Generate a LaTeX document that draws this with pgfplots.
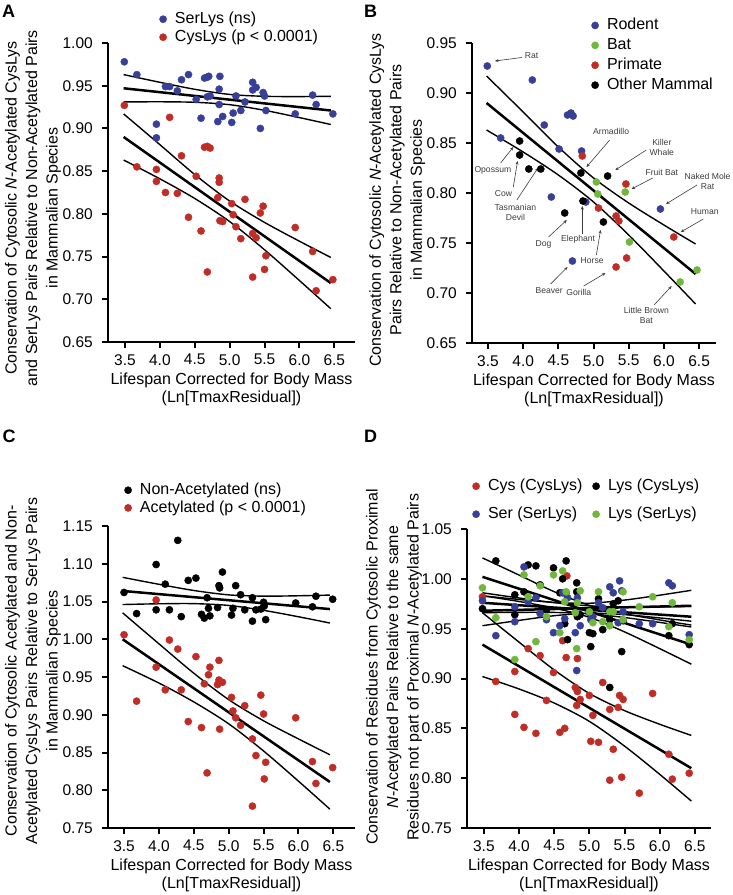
\documentclass[border=0pt]{standalone}
\usepackage{pgfplots}
\pgfplotsset{compat=1.18}
\usepackage{fontspec}
\setmainfont{Liberation Sans}
\usetikzlibrary{arrows.meta}

\definecolor{pblue}{RGB}{56,63,153}
\definecolor{pred}{RGB}{192,45,38}
\definecolor{pgreen}{RGB}{112,183,58}
\definecolor{annot}{RGB}{60,60,60}

\newcommand{\tickfont}{\fontsize{15.5}{18}\selectfont}

\pgfplotsset{
  panel/.style={
    scale only axis, clip=false,
    axis lines=left, axis line style={line width=2.6pt,-},
    tick align=outside, major tick length=6pt,
    tick style={line width=2pt,black},
    xtick={3.5,4.0,4.5,5.0,5.5,6.0,6.5},
    /pgf/number format/assume math mode=true,
    every tick label/.append style={font=\tickfont},
    xticklabel={\pgfmathprintnumber[fixed,fixed zerofill,precision=1]{\tick}},
    yticklabel={\pgfmathprintnumber[fixed,fixed zerofill,precision=2]{\tick}},
    xticklabel style={inner sep=0pt, yshift=-6pt},
    yticklabel style={inner sep=0pt, xshift=-9pt},
    xlabel={Lifespan Corrected for Body Mass\\(Ln[TmaxResidual])},
    xlabel style={at={(axis description cs:0.5,0)}, anchor=north, yshift=-31pt,
      font=\fontsize{16}{18}\selectfont, align=center, inner sep=0pt},
    ylabel style={font=\fontsize{16}{20.5}\selectfont, align=center, inner sep=0pt, anchor=south},
    legend cell align=left,
    legend image code/.code={\draw[##1,mark size=3.6pt] plot coordinates {(0pt,0pt)};},
    legend style={draw=none, fill=none, inner sep=0pt, anchor=north west,
      at={(axis description cs:0,1)}, font=\fontsize{16}{19}\selectfont,
      nodes={inner sep=0pt, text height=12pt, text depth=3.5pt},
      /tikz/every odd column/.append style={column sep=8.3pt}},
  },
  pts/.style={only marks, mark=*, mark size=3.6pt, color=#1},
  fit/.style={black, line width=2.5pt, forget plot},
  ci/.style={black, line width=1.4pt, smooth, forget plot},
}

\begin{document}
\begin{tikzpicture}
\path[use as bounding box] (0pt,0pt) rectangle (733pt,-895pt);

% ---------------- A
\begin{axis}[panel, at={(108pt,-342pt)}, anchor=south west, width=247pt, height=299pt,
  xmin=3.256, xmax=6.797, ymin=0.65, ymax=1.00, ytick={0.65,0.70,...,1.00},
  ylabel={Conservation of Cytosolic \textit{N}-Acetylated CysLys\\and SerLys Pairs Relative to Non-Acetylated Pairs\\in Mammalian Species},
  ylabel style={at={(axis description cs:-0.190,0.448)}},
  legend style={xshift=51.3pt, yshift=31.75pt, row sep=2.5pt}]
\addplot[pts=pblue] coordinates {(3.49,0.978)(3.67,0.963)(3.95,0.889)(3.95,0.905)(4.08,0.949)(4.14,0.949)(4.25,0.944)(4.31,0.957)(4.41,0.963)(4.52,0.934)(4.59,0.912)(4.64,0.959)(4.68,0.960)(4.70,0.961)(4.68,0.937)(4.72,0.938)(4.83,0.908)(4.85,0.928)(4.85,0.946)(4.86,0.961)(4.90,0.914)(5.03,0.907)(5.05,0.918)(5.09,0.938)(5.16,0.921)(5.22,0.931)(5.33,0.954)(5.33,0.945)(5.38,0.948)(5.44,0.900)(5.48,0.942)(5.50,0.938)(5.52,0.921)(5.94,0.917)(6.19,0.939)(6.24,0.928)(6.48,0.917)};
\addlegendentry{SerLys (ns)}
\addplot[pts=pred] coordinates {(3.49,0.927)(3.67,0.855)(3.95,0.852)(3.95,0.838)(4.08,0.825)(4.14,0.913)(4.25,0.824)(4.31,0.868)(4.41,0.796)(4.52,0.844)(4.59,0.780)(4.64,0.878)(4.68,0.879)(4.72,0.877)(4.68,0.732)(4.83,0.819)(4.85,0.842)(4.85,0.837)(4.86,0.792)(4.90,0.791)(5.03,0.812)(5.05,0.799)(5.09,0.785)(5.16,0.771)(5.22,0.817)(5.33,0.777)(5.33,0.726)(5.38,0.772)(5.44,0.801)(5.48,0.809)(5.52,0.751)(5.50,0.735)(5.94,0.784)(6.19,0.756)(6.24,0.710)(6.48,0.723)};
\addlegendentry{CysLys (p < 0.0001)}
\addplot[fit] coordinates {(3.48,0.947)(6.45,0.921)};
\addplot[ci] coordinates {(3.48,0.963)(4.0,0.954)(4.5,0.9458)(5.0,0.9398)(5.5,0.9376)(6.0,0.9373)(6.45,0.9376)};
\addplot[ci] coordinates {(3.48,0.931)(4.0,0.9312)(4.5,0.9306)(5.0,0.9278)(5.5,0.9212)(6.0,0.9127)(6.45,0.9046)};
\addplot[fit] coordinates {(3.48,0.890)(6.45,0.719)};
\addplot[ci] coordinates {(3.48,0.917)(4.0,0.881)(4.5,0.846)(5.0,0.815)(5.5,0.790)(6.0,0.768)(6.45,0.749)};
\addplot[ci] coordinates {(3.48,0.863)(4.0,0.841)(4.5,0.818)(5.0,0.791)(5.5,0.758)(6.0,0.722)(6.45,0.689)};
\end{axis}

% ---------------- B
\begin{axis}[panel, at={(472pt,-343pt)}, anchor=south west, width=244pt, height=300pt,
  xmin=3.273, xmax=6.74, ymin=0.65, ymax=0.95, ytick={0.65,0.70,...,0.95},
  ylabel={Conservation of Cytosolic \textit{N}-Acetylated CysLys\\Pairs Relative to Non-Acetylated Pairs\\in Mammalian Species},
  ylabel style={at={(axis description cs:-0.1906,0.477)}},
  legend style={xshift=119.3pt, yshift=25.5pt, row sep=4.4pt}]
\addplot[pts=pblue] coordinates {(3.49,0.927)(3.68,0.855)(4.13,0.913)(4.30,0.868)(4.51,0.844)(4.40,0.796)(4.63,0.878)(4.68,0.880)(4.71,0.877)(4.83,0.842)(4.89,0.791)(4.70,0.732)(5.95,0.784)};
\addlegendentry{Rodent}
\addplot[pts=pgreen] coordinates {(5.04,0.811)(5.06,0.799)(5.45,0.801)(5.51,0.751)(6.23,0.711)(6.47,0.723)};
\addlegendentry{Bat}
\addplot[pts=pred] coordinates {(4.84,0.837)(5.07,0.785)(5.32,0.777)(5.36,0.772)(5.46,0.809)(6.14,0.756)(5.32,0.726)(5.47,0.735)};
\addlegendentry{Primate}
\addplot[pts=black] coordinates {(3.95,0.852)(3.95,0.838)(4.08,0.824)(4.25,0.824)(4.59,0.780)(4.82,0.820)(4.85,0.792)(5.20,0.817)(5.14,0.771)};
\addlegendentry{Other Mammal}
\addplot[fit] coordinates {(3.48,0.890)(6.45,0.719)};
\addplot[ci] coordinates {(3.48,0.917)(4.0,0.881)(4.5,0.846)(5.0,0.815)(5.5,0.790)(6.0,0.768)(6.45,0.749)};
\addplot[ci] coordinates {(3.48,0.863)(4.0,0.841)(4.5,0.818)(5.0,0.791)(5.5,0.758)(6.0,0.722)(6.45,0.689)};
\begin{scope}[every node/.style={font=\fontsize{8.6}{10}\selectfont, text=annot, align=center, inner sep=0pt},
  arr/.style={annot, line width=0.6pt, -{Stealth[length=3.5pt,width=3pt]}}]
\node at (axis cs:4.12,0.937) {Rat};
\draw[arr] (axis cs:3.98,0.9355) -- (axis cs:3.60,0.932);
\node at (axis cs:3.57,0.823) {Opossum};
\draw[arr] (axis cs:3.68,0.830) -- (axis cs:3.86,0.846);
\node at (axis cs:3.72,0.799) {Cow};
\draw[arr] (axis cs:3.86,0.806) -- (axis cs:3.92,0.832);
\node at (axis cs:3.89,0.781) {Tasmanian\\Devil};
\draw[arr] (axis cs:3.91,0.793) -- (axis cs:4.21,0.825);
\node at (axis cs:4.29,0.749) {Dog};
\draw[arr] (axis cs:4.36,0.756) -- (axis cs:4.62,0.773);
\node at (axis cs:4.78,0.754) {Elephant};
\draw[arr] (axis cs:4.84,0.759) -- (axis cs:4.84,0.787);
\node at (axis cs:4.98,0.732) {Horse};
\draw[arr] (axis cs:5.04,0.738) -- (axis cs:5.10,0.763);
\node at (axis cs:4.37,0.702) {Beaver};
\draw[arr] (axis cs:4.39,0.709) -- (axis cs:4.63,0.726);
\node at (axis cs:4.79,0.701) {Gorilla};
\draw[arr] (axis cs:4.86,0.707) -- (axis cs:5.17,0.720);
\node at (axis cs:5.75,0.678) {Little Brown\\Bat};
\draw[arr] (axis cs:5.86,0.688) -- (axis cs:6.11,0.707);
\node at (axis cs:5.25,0.862) {Armadillo};
\draw[arr] (axis cs:5.23,0.853) -- (axis cs:4.90,0.826);
\node at (axis cs:5.97,0.846) {Killer\\Whale};
\draw[arr] (axis cs:5.75,0.843) -- (axis cs:5.31,0.823);
\node at (axis cs:5.97,0.821) {Fruit Bat};
\draw[arr] (axis cs:5.84,0.815) -- (axis cs:5.54,0.804);
\node at (axis cs:6.62,0.812) {Naked Mole\\Rat};
\draw[arr] (axis cs:6.47,0.808) -- (axis cs:6.03,0.789);
\node at (axis cs:6.58,0.781) {Human};
\draw[arr] (axis cs:6.56,0.774) -- (axis cs:6.24,0.761);
\end{scope}
\end{axis}

% ---------------- C
\begin{axis}[panel, at={(108pt,-828pt)}, anchor=south west, width=247pt, height=302pt,
  xmin=3.27, xmax=6.81, ymin=0.75, ymax=1.15, ytick={0.75,0.80,...,1.15},
  ylabel={Conservation of Cytosolic Acetylated and Non-\\Acetylated CysLys Pairs Relative to SerLys Pairs\\in Mammalian Species},
  ylabel style={at={(axis description cs:-0.190,0.52)}},
  legend style={xshift=16.3pt, yshift=43.75pt, row sep=2.2pt}]
\addplot[pts=black] coordinates {(3.50,1.062)(3.68,1.034)(3.96,1.099)(3.96,1.039)(4.09,1.073)(4.15,1.039)(4.27,1.131)(4.32,1.030)(4.42,1.078)(4.53,1.081)(4.61,1.033)(4.65,1.028)(4.69,1.055)(4.71,1.041)(4.73,1.031)(4.84,1.042)(4.86,1.071)(4.87,1.068)(4.91,1.089)(5.04,1.032)(5.06,1.041)(5.10,1.071)(5.17,1.059)(5.23,1.039)(5.34,1.024)(5.34,1.055)(5.39,1.039)(5.46,1.040)(5.50,1.049)(5.51,1.044)(5.53,1.026)(5.96,1.048)(6.20,1.043)(6.25,1.057)(6.49,1.053)};
\addlegendentry{Non-Acetylated (ns)}
\addplot[pts=pred] coordinates {(3.50,1.006)(3.68,0.918)(3.96,1.052)(3.96,0.963)(4.09,0.933)(4.15,0.999)(4.27,0.987)(4.32,0.933)(4.42,0.891)(4.53,0.977)(4.61,0.883)(4.65,0.941)(4.69,0.823)(4.71,0.953)(4.73,0.963)(4.84,0.940)(4.86,0.972)(4.86,0.946)(4.87,0.881)(4.91,0.943)(5.04,0.923)(5.06,0.905)(5.10,0.896)(5.17,0.886)(5.23,0.912)(5.34,0.868)(5.34,0.779)(5.39,0.846)(5.46,0.926)(5.50,0.901)(5.51,0.815)(5.53,0.837)(5.96,0.896)(6.20,0.838)(6.25,0.809)(6.49,0.830)};
\addlegendentry{Acetylated (p < 0.0001)}
\addplot[fit] coordinates {(3.48,1.064)(6.45,1.040)};
\addplot[ci] coordinates {(3.48,1.082)(4.0,1.0728)(4.5,1.0646)(5.0,1.0588)(5.5,1.0571)(6.0,1.0576)(6.45,1.0585)};
\addplot[ci] coordinates {(3.48,1.046)(4.0,1.047)(4.5,1.0472)(5.0,1.0448)(5.5,1.0383)(6.0,1.0298)(6.45,1.0215)};
\addplot[fit] coordinates {(3.48,1.000)(6.45,0.811)};
\addplot[ci] coordinates {(3.48,1.035)(4.0,0.994)(4.5,0.955)(5.0,0.920)(5.5,0.892)(6.0,0.868)(6.45,0.847)};
\addplot[ci] coordinates {(3.48,0.965)(4.0,0.942)(4.5,0.917)(5.0,0.888)(5.5,0.852)(6.0,0.812)(6.45,0.775)};
\end{axis}

% ---------------- D
\begin{axis}[panel, at={(467pt,-828pt)}, anchor=south west, width=244pt, height=299pt,
  xmin=3.26, xmax=6.73, ymin=0.75, ymax=1.05, ytick={0.75,0.80,...,1.05},
  ylabel={Conservation of Residues from Cytosolic Proximal\\\textit{N}-Acetylated Pairs Relative to the same\\Residues not part of Proximal \textit{N}-Acetylated Pairs},
  ylabel style={at={(axis description cs:-0.184,0.538)}},
  legend columns=2,
  legend style={xshift=5.3pt, yshift=50.75pt, row sep=12.5pt,
    /tikz/every even column/.append style={column sep=10pt}}]
\addplot[pts=pred] coordinates {(3.48,0.982)(3.67,0.897)(3.94,0.907)(3.94,0.864)(4.07,0.851)(4.13,0.930)(4.24,0.845)(4.30,0.923)(4.39,0.878)(4.49,0.906)(4.58,0.846)(4.62,0.938)(4.65,0.850)(4.67,0.921)(4.68,1.003)(4.80,0.891)(4.82,0.873)(4.83,0.920)(4.83,0.887)(4.87,0.879)(5.00,0.883)(5.02,0.837)(5.05,0.863)(5.13,0.836)(5.19,0.896)(5.29,0.869)(5.29,0.798)(5.34,0.829)(5.41,0.871)(5.43,0.883)(5.48,0.879)(5.46,0.801)(5.71,0.785)(5.90,0.885)(6.13,0.824)(6.18,0.799)(6.42,0.805)};
\addlegendentry{Cys (CysLys)}
\addplot[pts=black] coordinates {(3.48,0.970)(3.67,1.018)(3.94,0.984)(3.94,0.964)(4.07,0.987)(4.13,1.014)(4.24,1.013)(4.30,0.994)(4.39,0.969)(4.49,1.011)(4.58,0.986)(4.62,1.000)(4.65,0.955)(4.67,1.018)(4.69,0.939)(4.82,0.996)(4.82,0.987)(4.83,0.962)(4.87,0.964)(5.00,0.946)(5.02,0.932)(5.05,0.945)(5.13,0.980)(5.19,0.949)(5.29,0.891)(5.29,0.959)(5.34,0.975)(5.41,0.978)(5.46,0.927)(5.48,0.958)(6.13,0.943)(6.18,0.955)(6.42,0.934)};
\addlegendentry{Lys (CysLys)}
\addplot[pts=pblue] coordinates {(3.48,0.978)(3.67,0.943)(3.94,0.972)(3.94,0.957)(4.07,1.012)(4.13,0.977)(4.24,0.981)(4.30,0.965)(4.39,0.959)(4.49,0.946)(4.58,0.953)(4.62,0.986)(4.65,0.960)(4.67,0.986)(4.69,0.981)(4.80,0.946)(4.82,0.908)(4.83,0.981)(4.87,0.953)(5.00,0.966)(5.02,0.959)(5.05,0.962)(5.13,0.976)(5.19,0.971)(5.29,0.992)(5.34,0.986)(5.41,0.956)(5.43,0.998)(5.46,0.988)(5.48,0.967)(5.71,0.955)(5.90,0.955)(6.13,0.996)(6.18,0.993)(6.42,0.944)};
\addlegendentry{Ser (SerLys)}
\addplot[pts=pgreen] coordinates {(3.48,0.991)(3.67,0.961)(3.94,0.919)(4.07,1.004)(4.13,0.982)(4.24,0.937)(4.30,0.993)(4.39,0.962)(4.49,1.004)(4.58,0.946)(4.62,1.008)(4.65,0.977)(4.67,0.987)(4.80,0.966)(4.82,0.930)(4.83,0.976)(4.87,0.988)(5.00,0.967)(5.05,0.956)(5.13,0.987)(5.19,0.957)(5.29,0.967)(5.29,0.953)(5.34,0.967)(5.48,0.987)(5.48,0.959)(5.71,0.972)(5.90,0.982)(6.13,0.952)(6.18,0.976)(6.42,0.939)};
\addlegendentry{Lys (SerLys)}
% Cys (CysLys)
\addplot[fit] coordinates {(3.48,0.934)(6.45,0.810)};
\addplot[ci] coordinates {(3.48,0.966)(4.0,0.9365)(4.5,0.9086)(5.0,0.885)(5.5,0.8678)(6.0,0.8541)(6.45,0.8429)};
\addplot[ci] coordinates {(3.48,0.902)(4.0,0.8895)(4.5,0.8754)(5.0,0.857)(5.5,0.8322)(6.0,0.8039)(6.45,0.7771)};
% Lys (CysLys)
\addplot[fit] coordinates {(3.48,1.002)(6.45,0.934)};
\addplot[ci] coordinates {(3.48,1.021)(4.0,1.0038)(4.5,0.9871)(5.0,0.9734)(5.5,0.9650)(6.0,0.9588)(6.45,0.9536)};
\addplot[ci] coordinates {(3.48,0.983)(4.0,0.9773)(4.5,0.9707)(5.0,0.9614)(5.5,0.9468)(6.0,0.9300)(6.45,0.9144)};
% Ser (SerLys)
\addplot[fit] coordinates {(3.48,0.976)(6.45,0.962)};
\addplot[ci] coordinates {(3.48,0.986)(4.0,0.9808)(4.5,0.9761)(5.0,0.9729)(5.5,0.9718)(6.0,0.9719)(6.45,0.9723)};
\addplot[ci] coordinates {(3.48,0.966)(4.0,0.9664)(4.5,0.9663)(5.0,0.9649)(5.5,0.9612)(6.0,0.9563)(6.45,0.9517)};
% Lys (SerLys)
\addplot[fit] coordinates {(3.48,0.968)(6.45,0.973)};
\addplot[ci] coordinates {(3.48,0.983)(4.0,0.9793)(4.5,0.9764)(5.0,0.9755)(5.5,0.9787)(6.0,0.9836)(6.45,0.9885)};
\addplot[ci] coordinates {(3.48,0.953)(4.0,0.9583)(4.5,0.9630)(5.0,0.9655)(5.5,0.9641)(6.0,0.9608)(6.45,0.9575)};
\end{axis}

\node[font=\bfseries\fontsize{18}{18}\selectfont] at (8.7pt,-11.7pt) {A};
\node[font=\bfseries\fontsize{18}{18}\selectfont] at (370.5pt,-11.7pt) {B};
\node[font=\bfseries\fontsize{18}{18}\selectfont] at (9pt,-436.5pt) {C};
\node[font=\bfseries\fontsize{18}{18}\selectfont] at (370.5pt,-436.5pt) {D};
\end{tikzpicture}
\end{document}
